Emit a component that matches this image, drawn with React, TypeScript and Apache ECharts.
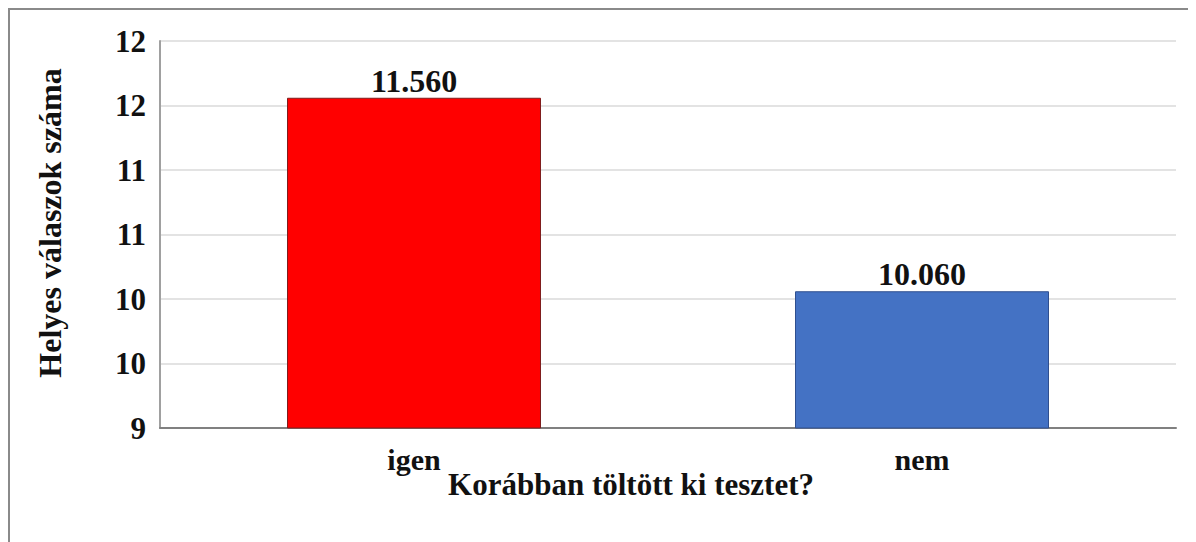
import React, { useEffect, useRef } from "react";
import * as echarts from "echarts";

const categories = ["igen", "nem"];
const values = [11.56, 10.06];
const valueLabels = ["11.560", "10.060"];
const barColors = ["#ff0000", "#4472c4"];
const barBorders = ["#7f1d1d", "#2f4f8f"];
const yTitle = "Helyes válaszok száma";
const xTitle = "Korábban töltött ki tesztet?";

const FONT = "Liberation Serif";

export default function App() {
  const ref = useRef<HTMLDivElement>(null);
  useEffect(() => {
    if (!ref.current) return;
    const chart = echarts.init(ref.current, undefined, { renderer: "svg" });
    chart.setOption({
      animation: false,
      grid: { left: 150, top: 31, right: 20, bottom: 114 },
      xAxis: {
        type: "category",
        data: categories,
        axisLine: { lineStyle: { color: "#808080", width: 2 } },
        axisTick: { show: false },
        axisLabel: {
          fontFamily: FONT,
          fontWeight: "bold",
          fontSize: 30,
          color: "#111",
          margin: 16,
        },
      },
      yAxis: {
        type: "value",
        min: 9,
        max: 12,
        interval: 0.5,
        axisLine: { show: true, lineStyle: { color: "#a0a0a0", width: 2 } },
        axisTick: { show: false },
        splitLine: { lineStyle: { color: "#dadada", width: 1.5 } },
        axisLabel: {
          fontFamily: FONT,
          fontWeight: "bold",
          fontSize: 31,
          color: "#111",
          margin: 14,
          formatter: (v: number) => String(Math.round(v)),
        },
      },
      series: [
        {
          type: "bar",
          barWidth: "50%",
          data: values.map((v, i) => ({
            value: v,
            itemStyle: { color: barColors[i], borderColor: barBorders[i], borderWidth: 1 },
            label: { formatter: valueLabels[i] },
          })),
          label: {
            show: true,
            position: "top",
            distance: 1,
            fontFamily: FONT,
            fontWeight: "bold",
            fontSize: 32,
            color: "#111",
          },
        },
      ],
      graphic: [
        {
          type: "text",
          x: 40,
          y: 213,
          rotation: Math.PI / 2,
          style: {
            text: yTitle,
            fontFamily: FONT,
            fontWeight: "bold",
            fontSize: 32,
            fill: "#111",
            align: "center",
            verticalAlign: "middle",
          },
        },
        {
          type: "text",
          x: 621,
          y: 474,
          style: {
            text: xTitle,
            fontFamily: FONT,
            fontWeight: "bold",
            fontSize: 31,
            fill: "#111",
            align: "center",
            verticalAlign: "middle",
          },
        },
      ],
    });
    return () => chart.dispose();
  }, []);
  return (
    <div
      style={{
        width: 1188,
        height: 534,
        borderTop: "2px solid #8a8a8a",
        borderLeft: "2px solid #8a8a8a",
        background: "#fff",
        overflow: "hidden",
      }}
    >
      <div ref={ref} style={{ width: 1186, height: 532 }} />
    </div>
  );
}
